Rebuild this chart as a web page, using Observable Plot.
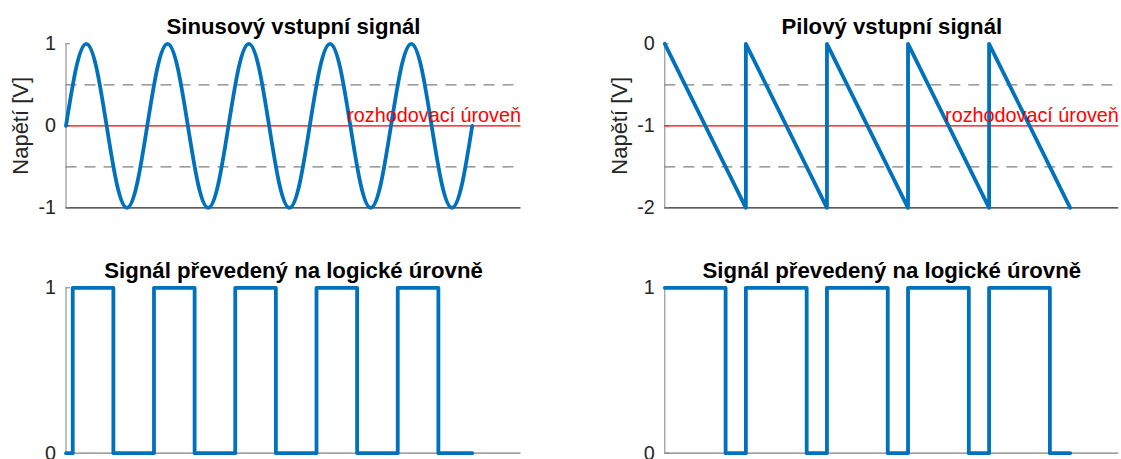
<!DOCTYPE html>
<html>
<head>
<meta charset="utf-8">
<script src="https://cdn.jsdelivr.net/npm/d3@7"></script>
<script src="https://cdn.jsdelivr.net/npm/@observablehq/plot@0.6"></script>
<style>
  html, body { margin: 0; padding: 0; background: white; overflow: hidden; }
  #root { position: relative; width: 1121px; height: 459px; }
  #root svg { position: absolute; }
</style>
</head>
<body>
<div id="root"></div>
<script>
// ---- Data (time in periods of the input signal) ----
const xDomain = [0, 5.6];

// Sine input, sampled every 1/8 period
const sineT = [0, 0.125, 0.25, 0.375, 0.5, 0.625, 0.75, 0.875,
  1, 1.125, 1.25, 1.375, 1.5, 1.625, 1.75, 1.875,
  2, 2.125, 2.25, 2.375, 2.5, 2.625, 2.75, 2.875,
  3, 3.125, 3.25, 3.375, 3.5, 3.625, 3.75, 3.875,
  4, 4.125, 4.25, 4.375, 4.5, 4.625, 4.75, 4.875, 5];
const sineV = [0, 0.707, 1, 0.707, 0, -0.707, -1, -0.707,
  0, 0.707, 1, 0.707, 0, -0.707, -1, -0.707,
  0, 0.707, 1, 0.707, 0, -0.707, -1, -0.707,
  0, 0.707, 1, 0.707, 0, -0.707, -1, -0.707,
  0, 0.707, 1, 0.707, 0, -0.707, -1, -0.707, 0];

// Sawtooth input
const sawT = [0, 1, 1, 2, 2, 3, 3, 4, 4, 5];
const sawV = [0, -2, 0, -2, 0, -2, 0, -2, 0, -2];

// Logic outputs (step-after)
const sineLogicT = [0, 0.083, 0.583, 1.083, 1.583, 2.083, 2.583, 3.083, 3.583, 4.083, 4.583, 5];
const sineLogicV = [0, 1, 0, 1, 0, 1, 0, 1, 0, 1, 0, 0];
const sawLogicT = [0, 0.75, 1, 1.75, 2, 2.75, 3, 3.75, 4, 4.75, 5];
const sawLogicV = [1, 0, 1, 0, 1, 0, 1, 0, 1, 0, 0];

// Thresholds
const sineThresholds = [0.5, -0.5];
const sineDecision = [0];
const sawThresholds = [-0.5, -1.5];
const sawDecision = [-1];

// Tick values and labels
const sineTicks = [-1, 0, 1];
const sawTicks = [-2, -1, 0];
const logicTicks = [0, 1];

const titleSine = "Sinusový vstupní signál";
const titleSaw = "Pilový vstupní signál";
const titleLogic = "Signál převedený na logické úrovně";
const yLabel = "Napětí [V]";
const decisionLabel = "rozhodovací úroveň";

// ---- Styling ----
const BLUE = "#0072BD";
const GRAY = "#808080";
const DARK = "#262626";
const FONT = "'Liberation Sans', Arial, Helvetica, sans-serif";

function zip(t, v) { return t.map((d, i) => ({t: d, v: v[i]})); }

function panel(o) {
  const frameW = o.width - o.ml - o.mr;
  const marks = [
    Plot.ruleX([0], {stroke: GRAY, strokeWidth: 1}),
    Plot.ruleY([o.yDomain[0]], {stroke: o.bottomColor, strokeWidth: 1.2}),
    Plot.tickY(o.ticks, {y: d => d, stroke: GRAY, strokeWidth: 1, insetRight: frameW - 4.5}),
    Plot.axisY({ticks: o.ticks, tickSize: 0, tickPadding: 10, tickFormat: d => String(d),
      fontSize: 19.8, fill: DARK, label: null})
  ];
  if (o.thresholds) {
    marks.push(Plot.ruleY(o.thresholds, {stroke: GRAY, strokeWidth: 1.2, strokeDasharray: "11,8"}));
    marks.push(Plot.ruleY(o.decision, {stroke: "#FF0000", strokeWidth: 1.2}));
  }
  marks.push(Plot.line(o.data, {x: "t", y: "v", curve: o.curve, stroke: BLUE, strokeWidth: 3.8}));
  if (o.thresholds) {
    marks.push(Plot.text([decisionLabel], {x: () => xDomain[1], y: () => o.decision[0],
      textAnchor: "end", lineAnchor: "bottom", dy: -3.5, fill: "#FF0000", fontSize: 19.8}));
  }
  marks.push(Plot.text([o.title], {frameAnchor: "top", lineAnchor: "bottom", dy: o.titleDy,
    fontWeight: "bold", fontSize: 22.2, fill: "black"}));
  if (o.yLabel) {
    marks.push(Plot.text([o.yLabel], {frameAnchor: "left", textAnchor: "middle", lineAnchor: "middle",
      rotate: -90, dx: -45, fontSize: 22, fill: DARK}));
  }
  const svg = Plot.plot({
    width: o.width, height: o.height,
    marginTop: o.mt, marginBottom: o.mb, marginLeft: o.ml, marginRight: o.mr,
    x: {domain: xDomain, axis: null},
    y: {domain: o.yDomain, axis: null},
    style: {fontFamily: FONT, background: "transparent", overflow: "visible"},
    marks
  });
  svg.style.left = o.left + "px";
  svg.style.top = o.top + "px";
  return svg;
}

const root = document.getElementById("root");

root.append(panel({
  left: 0, top: 0, width: 560, height: 230, mt: 43.3, mb: 22.7, ml: 65.5, mr: 39.5,
  yDomain: [-1, 1], ticks: sineTicks, title: titleSine, titleDy: -10, yLabel,
  data: zip(sineT, sineV), curve: "natural", thresholds: sineThresholds, decision: sineDecision,
  bottomColor: DARK
}));

root.append(panel({
  left: 560, top: 0, width: 561, height: 230, mt: 43.3, mb: 22.7, ml: 104.3, mr: 2.7,
  yDomain: [-2, 0], ticks: sawTicks, title: titleSaw, titleDy: -10, yLabel,
  data: zip(sawT, sawV), curve: "linear", thresholds: sawThresholds, decision: sawDecision,
  bottomColor: DARK
}));

root.append(panel({
  left: 0, top: 230, width: 560, height: 229, mt: 57.3, mb: 6.3, ml: 65.5, mr: 39.5,
  yDomain: [0, 1], ticks: logicTicks, title: titleLogic, titleDy: -9.6,
  data: zip(sineLogicT, sineLogicV), curve: "step-after", bottomColor: GRAY
}));

root.append(panel({
  left: 560, top: 230, width: 561, height: 229, mt: 57.3, mb: 6.3, ml: 104.3, mr: 2.7,
  yDomain: [0, 1], ticks: logicTicks, title: titleLogic, titleDy: -9.6,
  data: zip(sawLogicT, sawLogicV), curve: "step-after", bottomColor: GRAY
}));
</script>
</body>
</html>
